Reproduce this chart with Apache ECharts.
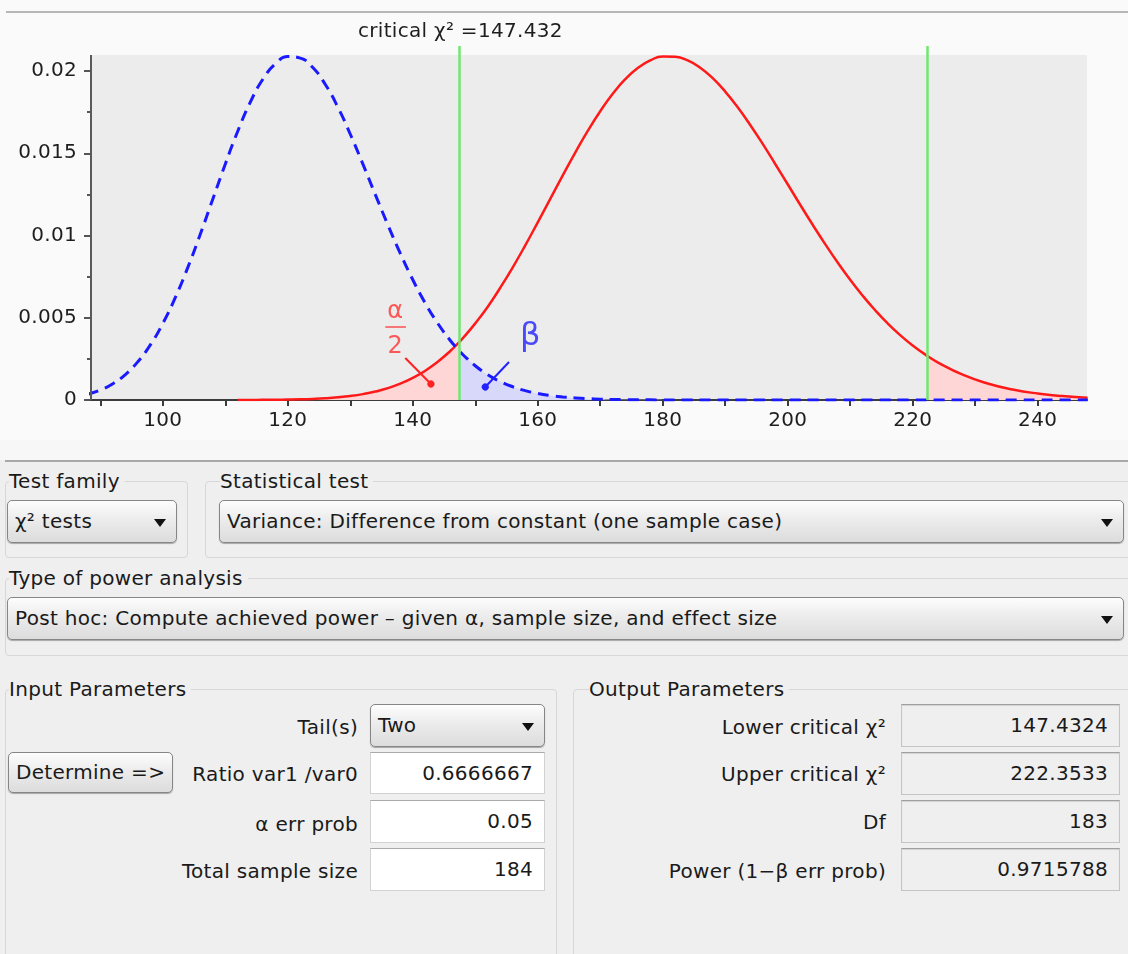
<!DOCTYPE html>
<html>
<head>
<meta charset="utf-8">
<title>G*Power - Variance: Difference from constant</title>
<script src="https://cdn.jsdelivr.net/npm/echarts@6/dist/echarts.min.js"></script>
<style>
    body {
        margin: 0;
        width: 1128px;
        height: 954px;
        position: relative;
        overflow: hidden;
        background: #efefef;
        font-family: 'DejaVu Sans', sans-serif;
        font-size: 20px;
        letter-spacing: 0.3px;
        color: #1a1a1a;
    }
    #chart { position: absolute; left: 0; top: 0; width: 1128px; height: 440px; }
    .topLine { position: absolute; left: 6px; top: 11px; width: 1122px; height: 2px; background: #b7b7b7; }
    .band { position: absolute; left: 0; top: 440px; width: 1128px; height: 20px; background: #f7f7f7; }
    .sep { position: absolute; left: 5px; top: 460px; width: 1123px; height: 2px; background: #a8a8a8; }
    .group { position: absolute; box-sizing: border-box; border: 1px solid #d7d7d7; border-radius: 4px; }
    .gTitle { position: absolute; line-height: 24px; background: #efefef; padding-right: 5px; white-space: nowrap; }
    .combo, .btn {
        position: absolute; box-sizing: border-box;
        border: 1px solid #868686; border-radius: 5px;
        background: linear-gradient(#fdfdfd, #ececec 45%, #dcdcdc);
        box-shadow: 0 1px 1px rgba(0,0,0,0.3);
        padding-left: 7px; white-space: nowrap;
    }
    .combo:after {
        content: ''; position: absolute; right: 10px; top: 50%; margin-top: -3px;
        border-left: 6px solid transparent; border-right: 6px solid transparent; border-top: 8px solid #111;
    }
    .field, .out {
        position: absolute; box-sizing: border-box; text-align: right; padding-right: 11px;
        white-space: nowrap;
    }
    .field { background: #fff; border: 1px solid #d2d2d2; border-top-color: #a9a9a9; }
    .out { background: #efefef; border: 1px solid #c4c4c4; border-top-color: #9f9f9f; box-shadow: inset 0 1px 1px rgba(0,0,0,0.12); }
    .lab { position: absolute; line-height: 24px; text-align: right; white-space: nowrap; }
</style>
</head>
<body>

<div id="chart"></div>
<div class="topLine"></div>
<div class="band"></div>
<div class="sep"></div>

<!-- test family / statistical test -->
<div class="group" style="left:5px;top:481px;width:183px;height:77px;"></div>
<div class="gTitle" style="left:9px;top:469px;">Test family</div>
<div class="combo" style="left:7px;top:500px;width:170px;height:43px;line-height:41px;">χ² tests</div>

<div class="group" style="left:205px;top:481px;width:930px;height:77px;"></div>
<div class="gTitle" style="left:220px;top:469px;">Statistical test</div>
<div class="combo" style="left:219px;top:500px;width:905px;height:43px;line-height:41px;">Variance: Difference from constant (one sample case)</div>

<div class="group" style="left:5px;top:578px;width:1130px;height:78px;"></div>
<div class="gTitle" style="left:9px;top:566px;">Type of power analysis</div>
<div class="combo" style="left:7px;top:597px;width:1117px;height:43px;line-height:41px;">Post hoc: Compute achieved power – given α, sample size, and effect size</div>

<!-- input parameters -->
<div class="group" style="left:5px;top:689px;width:552px;height:300px;"></div>
<div class="gTitle" style="left:9px;top:677px;">Input Parameters</div>
<div class="lab" style="right:770px;top:715px;">Tail(s)</div>
<div class="combo" style="left:370px;top:704px;width:175px;height:43px;line-height:41px;">Two</div>
<div class="btn" style="left:8px;top:752px;width:165px;height:41px;line-height:39px;">Determine =&gt;</div>
<div class="lab" style="right:770px;top:762px;">Ratio var1 /var0</div>
<div class="field" style="left:370px;top:752px;width:175px;height:42px;line-height:40px;">0.6666667</div>
<div class="lab" style="right:770px;top:812px;">α err prob</div>
<div class="field" style="left:370px;top:800px;width:175px;height:43px;line-height:41px;">0.05</div>
<div class="lab" style="right:770px;top:859px;">Total sample size</div>
<div class="field" style="left:370px;top:848px;width:175px;height:43px;line-height:41px;">184</div>

<!-- output parameters -->
<div class="group" style="left:573px;top:689px;width:570px;height:300px;"></div>
<div class="gTitle" style="left:589px;top:677px;">Output Parameters</div>
<div class="lab" style="right:242px;top:715px;">Lower critical χ²</div>
<div class="out" style="left:901px;top:704px;width:219px;height:43px;line-height:41px;">147.4324</div>
<div class="lab" style="right:242px;top:762px;">Upper critical χ²</div>
<div class="out" style="left:901px;top:752px;width:219px;height:43px;line-height:41px;">222.3533</div>
<div class="lab" style="right:242px;top:810px;">Df</div>
<div class="out" style="left:901px;top:800px;width:219px;height:43px;line-height:41px;">183</div>
<div class="lab" style="right:242px;top:859px;">Power (1−β err prob)</div>
<div class="out" style="left:901px;top:848px;width:219px;height:43px;line-height:41px;">0.9715788</div>

<script>
// chi-square axis positions (the two critical values are included so the shaded tails stop exactly there)
let chiX = [88, 90, 92, 94, 96, 98, 100, 102, 104, 106, 108, 110, 112, 114, 116, 118, 120, 122, 124, 126, 128, 130, 132, 134, 136, 138, 140, 142, 144, 146,
    147.432,
    148, 150, 152, 154, 156, 158, 160, 162, 164, 166, 168, 170, 172, 174, 176, 178, 180, 182, 184, 186, 188, 190, 192, 194, 196, 198, 200, 202, 204, 206, 208, 210, 212, 214, 216, 218, 220,
    222.353,
    224, 228, 232, 236, 240, 244, 248];

// H0 density (red, solid)
let h0Density = [null, null, null, null, null, null, null, null, null, null, null, null, 0.000003, 0.000005, 0.000009, 0.000015, 0.000026, 0.000042, 0.000068, 0.000106, 0.000163, 0.000243, 0.000357, 0.000512, 0.000719, 0.000992, 0.001341, 0.001782, 0.002326, 0.00298,
    0.00352,
    0.003752, 0.004659, 0.005672, 0.006826, 0.008067, 0.0094, 0.010803, 0.012228, 0.01365, 0.015038, 0.016358, 0.017555, 0.018611, 0.019501, 0.020181, 0.020647, 0.020877, 0.020862, 0.020641, 0.020197, 0.019562, 0.018749, 0.017792, 0.016722, 0.015566, 0.014348, 0.013115, 0.011869, 0.010653, 0.009475, 0.008354, 0.007306, 0.006339, 0.005456, 0.004658, 0.003946, 0.003317,
    0.00268,
    0.002293, 0.00154, 0.001006, 0.000639, 0.000396, 0.000239, 0.000141];

// H1 density (blue, dashed)
let h1Density = [0.000357, 0.000609, 0.000993, 0.00155, 0.002326, 0.00335, 0.004658, 0.006235, 0.008065, 0.010087, 0.012216, 0.014351, 0.016354, 0.01811, 0.019498, 0.020427, 0.020877, 0.020783, 0.020212, 0.019182, 0.017809, 0.016155, 0.014352, 0.012489, 0.010657, 0.00891, 0.007311, 0.005884, 0.004657, 0.003619,
    0.00299,
    0.002767, 0.00208, 0.001539, 0.001121, 0.000804, 0.000568, 0.000396, 0.000272, 0.000184, 0.000123, 0.000081, 0.000053, 0.000034, 0.000022, 0.000014, 0.000009, 0.000005, 0.000003, 0.000002, 0, 0, 0, 0, 0, 0, 0, 0, 0, 0, 0, 0, 0, 0, 0, 0, 0, 0,
    0,
    0, 0, 0, 0, 0, 0, 0];

let criticalLow = 147.432;
let criticalHigh = 222.353;

let xTicks = [90, 100, 110, 120, 130, 140, 150, 160, 170, 180, 190, 200, 210, 220, 230, 240];
let xLabels = [100, 120, 140, 160, 180, 200, 220, 240];
let yLabels = [0, 0.005, 0.01, 0.015, 0.02];
let yMinorTicks = [0.0025, 0.0075, 0.0125, 0.0175];

// axis extents: the grid reaches a bit above the grey plot so the critical lines stick out on top
let xMin = 88.5, xMax = 247.9;
let yMax = 0.02152, plotTop = 0.02097;

// annotation pointers (alpha/2 on the red tail, beta on the blue tail)
let alphaLeader = [[138.8, 0.00255], [142.9, 0.00097]];
let alphaBar = [[135.6, 0.00444], [138.9, 0.00444]];
let betaLeader = [[155.4, 0.00231], [151.6, 0.00079]];
let greekText = [
    {name: 'α', value: [137.2, 0.00535], label: {color: '#ff3333', fontSize: 24}},
    {name: '2', value: [137.2, 0.00322], label: {color: '#ff3333', fontSize: 24}},
    {name: 'β', value: [158.8, 0.00383], label: {color: '#2222ff', fontSize: 32}}
];

function pairs(lo, hi, vals) {
    let out = [];
    for (let i = 0; i < chiX.length; i++) {
        if (chiX[i] >= lo && chiX[i] <= hi && vals[i] != null) {
            out.push([chiX[i], vals[i]]);
        }
    }
    return out;
}

let font = 'DejaVu Sans';
let myChart = echarts.init(document.getElementById('chart'));

let option = {
    animation: false,
    backgroundColor: '#fafafa',
    title: {
        text: 'critical χ² =147.432',
        left: 353,
        top: 17,
        textStyle: {fontFamily: font, fontSize: 20, fontWeight: 'normal', color: '#1e1e1e'}
    },
    grid: {left: 91, right: 41, top: 46, bottom: 40, show: false},
    xAxis: {
        type: 'value',
        min: xMin,
        max: xMax,
        z: 1.5,
        splitLine: {show: false},
        axisLine: {lineStyle: {color: '#3c3c3c', width: 2}},
        axisTick: {customValues: xTicks, length: 6, lineStyle: {color: '#3c3c3c', width: 2}},
        axisLabel: {customValues: xLabels, margin: 11, fontFamily: font, fontSize: 20, color: '#1e1e1e'}
    },
    yAxis: [{
        type: 'value',
        min: 0,
        max: yMax,
        splitLine: {show: false},
        axisLine: {show: false},
        axisTick: {customValues: yLabels, length: 7, lineStyle: {color: '#555', width: 2}},
        axisLabel: {customValues: yLabels, margin: 14, fontFamily: font, fontSize: 20, color: '#1e1e1e'}
    }, {
        type: 'value',
        min: 0,
        max: yMax,
        position: 'left',
        offset: 0,
        splitLine: {show: false},
        axisLine: {show: false},
        axisLabel: {show: false},
        axisTick: {customValues: yMinorTicks, length: 4, lineStyle: {color: '#555', width: 2}}
    }],
    series: [
        {
            // left alpha/2 tail + grey plot background
            type: 'line',
            data: pairs(-Infinity, criticalLow, h0Density),
            smooth: true,
            symbol: 'none',
            lineStyle: {width: 0},
            areaStyle: {color: '#ffd6d6', opacity: 1},
            silent: true,
            markArea: {
                silent: true,
                itemStyle: {color: '#ececec'},
                data: [[{coord: [xMin, 0]}, {coord: [xMax, plotTop]}]]
            }
        },
        {
            // right alpha/2 tail
            type: 'line',
            data: pairs(criticalHigh, Infinity, h0Density),
            smooth: true,
            symbol: 'none',
            lineStyle: {width: 0},
            areaStyle: {color: '#ffd6d6', opacity: 1},
            silent: true
        },
        {
            // beta region under H1
            type: 'line',
            data: pairs(criticalLow, criticalHigh, h1Density),
            smooth: true,
            symbol: 'none',
            lineStyle: {width: 0},
            areaStyle: {color: '#d8d8fa', opacity: 1},
            silent: true,
            markLine: {
                silent: true,
                symbol: 'none',
                label: {show: false},
                lineStyle: {color: '#6fe86f', width: 2.5, type: 'solid'},
                data: [{xAxis: criticalLow}, {xAxis: criticalHigh}]
            }
        },
        {
            name: 'H0',
            type: 'line',
            data: pairs(-Infinity, Infinity, h0Density),
            smooth: true,
            symbol: 'none',
            z: 3,
            lineStyle: {color: '#ff1a1a', width: 2.5},
            markLine: {
                silent: true,
                symbol: ['none', 'circle'],
                symbolSize: 7,
                label: {show: false},
                lineStyle: {color: '#ff2222', width: 2, type: 'solid'},
                data: [[{coord: alphaLeader[0]}, {coord: alphaLeader[1]}]]
            }
        },
        {
            name: 'H1',
            type: 'line',
            data: pairs(-Infinity, Infinity, h1Density),
            smooth: true,
            symbol: 'none',
            z: 3,
            lineStyle: {color: '#1a1aff', width: 3, type: [11, 7]},
            markLine: {
                silent: true,
                symbol: ['none', 'circle'],
                symbolSize: 7,
                label: {show: false},
                lineStyle: {color: '#2222ff', width: 2, type: 'solid'},
                data: [[{coord: betaLeader[0]}, {coord: betaLeader[1]}]]
            }
        },
        {
            // greek letters, fraction bar and the y axis line
            type: 'scatter',
            data: greekText,
            symbolSize: 1,
            itemStyle: {color: 'rgba(0,0,0,0)'},
            z: 6,
            silent: true,
            label: {show: true, position: 'inside', formatter: '{b}', fontFamily: font},
            markLine: {
                silent: true,
                symbol: 'none',
                label: {show: false},
                data: [
                    [{coord: alphaBar[0], lineStyle: {color: '#f77777', width: 2, type: 'solid'}}, {coord: alphaBar[1]}],
                    [{coord: [xMin, 0], lineStyle: {color: '#5a5a5a', width: 2, type: 'solid'}}, {coord: [xMin, plotTop]}]
                ]
            }
        }
    ]
};
myChart.setOption(option);
</script>
</body>
</html>
